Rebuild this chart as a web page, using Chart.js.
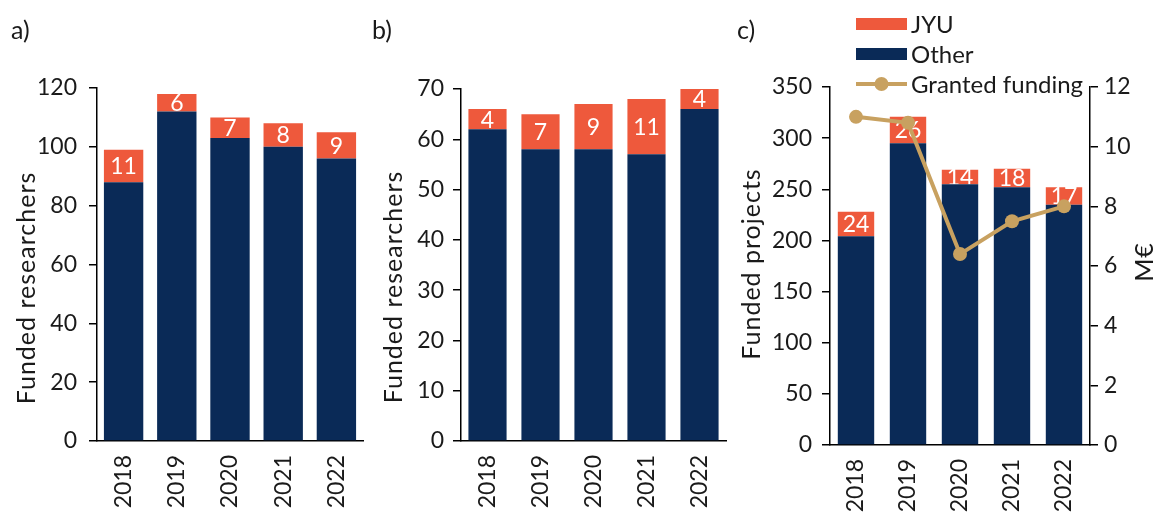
<!DOCTYPE html>
<html>
<head>
<meta charset="utf-8">
<script src="https://cdn.jsdelivr.net/npm/chart.js@4.4.1/dist/chart.umd.min.js"></script>
<style>
  html, body { margin: 0; padding: 0; background: #ffffff; }
  #wrap { position: relative; width: 1156px; height: 514px; overflow: hidden; }
  #wrap canvas { position: absolute; left: 0; top: 0; }
</style>
</head>
<body>
<div id="wrap">
  <canvas id="chartA" width="1156" height="514"></canvas>
  <canvas id="chartB" width="1156" height="514"></canvas>
  <canvas id="chartC" width="1156" height="514"></canvas>
</div>
<script>
// Years shown on every panel
const years = ['2018', '2019', '2020', '2021', '2022'];

// a) funded researchers
const researchersOtherA = [88, 112, 103, 100, 96];
const researchersJyuA = [11, 6, 7, 8, 9];

// b) funded researchers
const researchersOtherB = [62, 58, 58, 57, 66];
const researchersJyuB = [4, 7, 9, 11, 4];

// c) funded projects and granted funding (M€)
const projectsOther = [204, 295, 255, 252, 235];
const projectsJyu = [24, 26, 14, 18, 17];
const grantedFunding = [11.0, 10.8, 6.4, 7.5, 8.0];

// Axis ranges
const axisA = { max: 120, step: 20 };
const axisB = { max: 70, step: 10 };
const axisC = { max: 350, step: 50 };
const axisFunding = { max: 12, step: 2 };

const NAVY = '#0a2a57';
const RED = '#ee593c';
const GOLD = '#c8a160';
const TEXT = '#1a1a1a';
const FONT = 'Lato, "Open Sans", sans-serif';
const FS = 23;        // tick labels
const FS_TITLE = 25;  // axis titles, panel letters
const FS_LEGEND = 24;
const FS_VALUE = 23;

Chart.defaults.font.family = FONT;
Chart.defaults.font.size = FS;
Chart.defaults.color = TEXT;

function fixWidth(w) { return (scale) => { scale.width = w; }; }
function fixHeight(h) { return (scale) => { scale.height = h; }; }

// White value labels inside the JYU segments
const segmentLabels = {
  id: 'segmentLabels',
  afterDatasetDraw(chart, args) {
    const ds = chart.data.datasets[args.index];
    if (!ds.showValues) return;
    const meta = args.meta;
    const ctx = chart.ctx;
    ctx.save();
    ctx.fillStyle = '#ffffff';
    ctx.font = FS_VALUE + 'px ' + FONT;
    ctx.textAlign = 'center';
    ctx.textBaseline = 'middle';
    meta.data.forEach((bar, i) => {
      const y = (bar.y + bar.base) / 2 + 1;
      ctx.fillText(String(ds.data[i]), bar.x, y);
    });
    ctx.restore();
  }
};

// Panel letters and rotated axis titles
const decorations = {
  id: 'decorations',
  afterDraw(chart, args, opts) {
    const ctx = chart.ctx;
    ctx.save();
    ctx.fillStyle = TEXT;
    ctx.font = FS_TITLE + 'px ' + FONT;
    ctx.textBaseline = 'middle';
    if (opts.letter) {
      ctx.textAlign = 'left';
      ctx.fillText(opts.letter.text, opts.letter.x, opts.letter.y);
    }
    (opts.titles || []).forEach(t => {
      ctx.save();
      ctx.translate(t.x, t.y);
      ctx.rotate(-Math.PI / 2);
      ctx.textAlign = 'center';
      if ('letterSpacing' in ctx) ctx.letterSpacing = (t.spacing || 0) + 'px';
      ctx.fillText(t.text, 0, 0);
      ctx.restore();
    });
    ctx.restore();
  }
};

// Legend for panel c
const panelLegend = {
  id: 'panelLegend',
  afterDraw(chart, args, opts) {
    if (!opts.display) return;
    const ctx = chart.ctx;
    const ds = chart.data.datasets;
    ctx.save();
    ctx.font = FS_LEGEND + 'px ' + FONT;
    ctx.textBaseline = 'middle';
    ctx.textAlign = 'left';
    const x0 = opts.x, sw = opts.swatchWidth;
    opts.rows.forEach((row, k) => {
      const d = ds[row.dataset];
      const y = opts.y + k * opts.rowHeight;
      if (d.type === 'line') {
        ctx.strokeStyle = d.borderColor;
        ctx.lineWidth = d.borderWidth;
        ctx.beginPath();
        ctx.moveTo(x0, y);
        ctx.lineTo(x0 + sw, y);
        ctx.stroke();
        ctx.fillStyle = d.pointBackgroundColor;
        ctx.beginPath();
        ctx.arc(x0 + sw / 2, y, d.pointRadius, 0, Math.PI * 2);
        ctx.fill();
      } else {
        ctx.fillStyle = d.backgroundColor;
        ctx.fillRect(x0, y - 6, sw, 12);
      }
      ctx.fillStyle = TEXT;
      ctx.fillText(d.label, x0 + sw + 4, y + 1);
    });
    ctx.restore();
  }
};

function yAxis(range, width, pad, extra) {
  return Object.assign({
    type: 'linear',
    position: 'left',
    min: 0,
    max: range.max,
    afterFit: fixWidth(width),
    border: { display: true, color: '#000', width: 1.5 },
    grid: { display: true, drawOnChartArea: false, drawTicks: true, tickLength: 8, color: '#000', lineWidth: 1.5 },
    ticks: { stepSize: range.step, padding: pad, color: TEXT, font: { size: FS } }
  }, extra || {});
}

function xAxis(height) {
  return {
    type: 'category',
    stacked: true,
    afterFit: fixHeight(height),
    border: { display: true, color: '#000', width: 1.5 },
    grid: { display: false, drawTicks: false },
    ticks: { minRotation: 90, maxRotation: 90, padding: 14, color: TEXT, font: { size: FS } }
  };
}

function barSets(other, jyu, pct) {
  return [
    { type: 'bar', label: 'Other', data: other, backgroundColor: NAVY, stack: 's', order: 2,
      categoryPercentage: 1, barPercentage: pct, yAxisID: 'y' },
    { type: 'bar', label: 'JYU', data: jyu, backgroundColor: RED, stack: 's', order: 2, showValues: true,
      categoryPercentage: 1, barPercentage: pct, yAxisID: 'y' }
  ];
}

const common = {
  responsive: false,
  animation: false,
  events: [],
  plugins: { legend: { display: false }, tooltip: { enabled: false } }
};

// a)
new Chart(document.getElementById('chartA'), {
  data: { labels: years, datasets: barSets(researchersOtherA, researchersJyuA, 0.74) },
  options: Object.assign({}, common, {
    layout: { padding: { left: 0, right: 1156 - 363, top: 88, bottom: 0 } },
    scales: {
      x: xAxis(514 - 441),
      y: Object.assign(yAxis(axisA, 97, 12), { stacked: true })
    },
    plugins: Object.assign({}, common.plugins, {
      decorations: { letter: { text: 'a)', x: 11, y: 31 },
        titles: [{ text: 'Funded researchers', x: 27, y: 288, spacing: 1 }] },
      panelLegend: { display: false }
    })
  }),
  plugins: [segmentLabels, decorations, panelLegend]
});

// b)
new Chart(document.getElementById('chartB'), {
  data: { labels: years, datasets: barSets(researchersOtherB, researchersJyuB, 0.72) },
  options: Object.assign({}, common, {
    layout: { padding: { left: 461 - 90, right: 1156 - 726, top: 89, bottom: 0 } },
    scales: {
      x: xAxis(514 - 441),
      y: Object.assign(yAxis(axisB, 90, 9), { stacked: true })
    },
    plugins: Object.assign({}, common.plugins, {
      decorations: { letter: { text: 'b)', x: 372, y: 31 },
        titles: [{ text: 'Funded researchers', x: 394, y: 287, spacing: 1 }] },
      panelLegend: { display: false }
    })
  }),
  plugins: [segmentLabels, decorations, panelLegend]
});

// c)
const setsC = barSets(projectsOther, projectsJyu, 0.70);
setsC.push({
  type: 'line', label: 'Granted funding', data: grantedFunding, yAxisID: 'y2', order: 0,
  borderColor: GOLD, borderWidth: 4, pointRadius: 7, pointBackgroundColor: GOLD,
  pointBorderWidth: 0, tension: 0
});
new Chart(document.getElementById('chartC'), {
  data: { labels: years, datasets: setsC },
  options: Object.assign({}, common, {
    layout: { padding: { left: 830 - 95, right: 0, top: 87, bottom: 0 } },
    scales: {
      x: xAxis(514 - 445),
      y: Object.assign(yAxis(axisC, 95, 10), { stacked: true }),
      y2: yAxis(axisFunding, 1156 - 1090, 6, { position: 'right' })
    },
    plugins: Object.assign({}, common.plugins, {
      decorations: {
        letter: { text: 'c)', x: 737, y: 31 },
        titles: [{ text: 'Funded projects', x: 752, y: 264, spacing: 1 }, { text: 'M€', x: 1145, y: 262, spacing: 1 }]
      },
      panelLegend: {
        display: true, x: 856, y: 24, rowHeight: 30, swatchWidth: 51,
        rows: [{ dataset: 1 }, { dataset: 0 }, { dataset: 2 }]
      }
    })
  }),
  plugins: [segmentLabels, decorations, panelLegend]
});
</script>
</body>
</html>
